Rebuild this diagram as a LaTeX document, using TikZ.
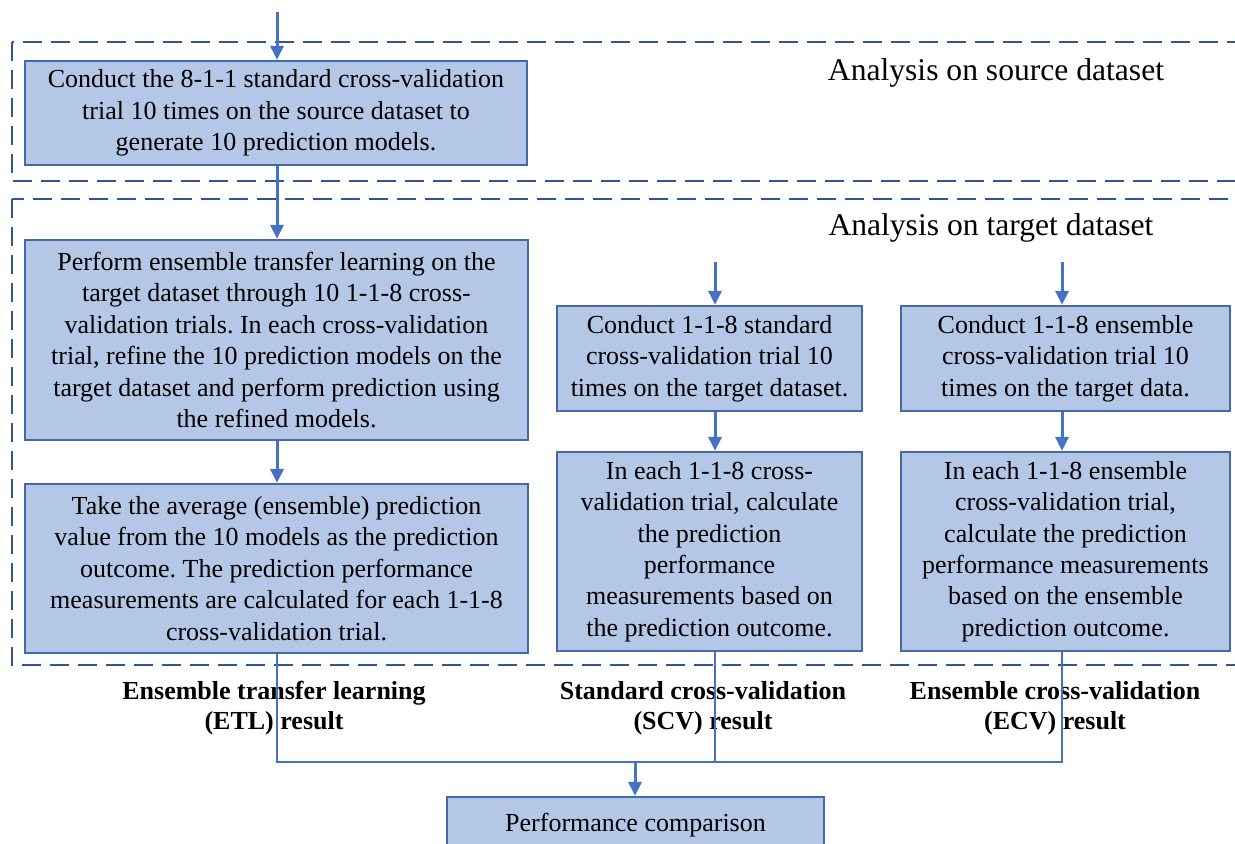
\documentclass[tikz,border=0pt]{standalone}
\usepackage{fontspec}
\setmainfont{Liberation Serif}
\usetikzlibrary{arrows.meta}
\frenchspacing
\definecolor{boxfill}{HTML}{B4C7E7}
\definecolor{boxline}{HTML}{4568AB}
\definecolor{arrowcol}{HTML}{4472C4}
\definecolor{dashcol}{HTML}{2F5597}
\tikzset{
  stepbox/.style={draw=boxline, fill=boxfill, line width=1.1pt, align=center,
    inner sep=0pt, font=\fontsize{13}{15.7}\selectfont},
  flow/.style={draw=arrowcol, line width=1.5pt,
    -{Triangle[length=7pt,width=6.5pt]}},
  bus/.style={draw=arrowcol, line width=1.3pt},
  region/.style={draw=dashcol, line width=1.4pt, dash pattern=on 9.5pt off 4.5pt},
  regiontitle/.style={font=\fontsize{15.8}{18}\selectfont, inner sep=0pt},
  result/.style={font=\bfseries\fontsize{13}{15.2}\selectfont, align=center, inner sep=0pt}
}
\begin{document}
\begin{tikzpicture}[x=0.5pt, y=-0.5pt]
\useasboundingbox (0,0) rectangle (1235,844);
\clip (0,0) rectangle (1235,844);

% analysis regions
\draw[region] (12,42) rectangle (1260,181);
\draw[region] (12,199) rectangle (1260,665);
\node[regiontitle] (srcTitle) at (996,73) {Analysis on source dataset};
\node[regiontitle] (tgtTitle) at (991,228) {Analysis on target dataset};

% source dataset step
\node[stepbox, minimum width=251pt, minimum height=52pt] (A) at (276,113)
  {Conduct the 8-1-1 standard cross-validation\\trial 10 times on the source dataset to\\generate 10 prediction models.};

% ensemble transfer learning branch
\node[stepbox, minimum width=251.5pt, minimum height=100pt] (B) at (276.5,340)
  {Perform ensemble transfer learning on the\\target dataset through 10 1-1-8 cross-\\validation trials. In each cross-validation\\trial, refine the 10 prediction models on the\\target dataset and perform prediction using\\the refined models.};
\node[stepbox, minimum width=251.5pt, minimum height=84.5pt] (C) at (276.5,568.5)
  {Take the average (ensemble) prediction\\value from the 10 models as the prediction\\outcome. The prediction performance\\measurements are calculated for each 1-1-8\\cross-validation trial.};

% standard cross-validation branch
\node[stepbox, minimum width=152.5pt, minimum height=52.5pt] (D) at (709.5,358.5)
  {Conduct 1-1-8 standard\\cross-validation trial 10\\times on the target dataset.};
\node[stepbox, minimum width=152.5pt, minimum height=99.5pt] (E) at (709.5,551.5)
  {In each 1-1-8 cross-\\validation trial, calculate\\the prediction\\performance\\measurements based on\\the prediction outcome.};

% ensemble cross-validation branch
\node[stepbox, minimum width=164.5pt, minimum height=52.5pt] (F) at (1065.5,358.5)
  {Conduct 1-1-8 ensemble\\cross-validation trial 10\\times on the target data.};
\node[stepbox, minimum width=164.5pt, minimum height=99.5pt] (G) at (1065.5,551.5)
  {In each 1-1-8 ensemble\\cross-validation trial,\\calculate the prediction\\performance measurements\\based on the ensemble\\prediction outcome.};

% comparison
\node[stepbox, minimum width=188.5pt, minimum height=28pt] (H) at (635.5,825)
  {Performance comparison};

% result labels
\node[result] (etl) at (274,708) {Ensemble transfer learning\\(ETL) result};
\node[result] (scv) at (703,708) {Standard cross-validation\\(SCV) result};
\node[result] (ecv) at (1055,708) {Ensemble cross-validation\\(ECV) result};

% entry points and bus junction
\coordinate (inA) at (277,12);
\coordinate (inD) at (715,262);
\coordinate (inF) at (1062,262);
\coordinate (join) at (635,762);

% arrows
\draw[flow] (inA) -- (inA |- A.north);
\draw[flow] (A.south -| inA) -- (B.north -| inA);
\draw[flow] (B.south -| inA) -- (C.north -| inA);
\draw[flow] (inD) -- (inD |- D.north);
\draw[flow] (D.south -| inD) -- (E.north -| inD);
\draw[flow] (inF) -- (inF |- F.north);
\draw[flow] (F.south -| inF) -- (G.north -| inF);

% collecting bus
\draw[bus] (C.south -| inA) -- (inA |- join) -- (inF |- join) -- (G.south -| inF);
\draw[bus] (E.south -| inD) -- (inD |- join);
\draw[flow] (join) -- (H.north -| join);
\end{tikzpicture}
\end{document}
